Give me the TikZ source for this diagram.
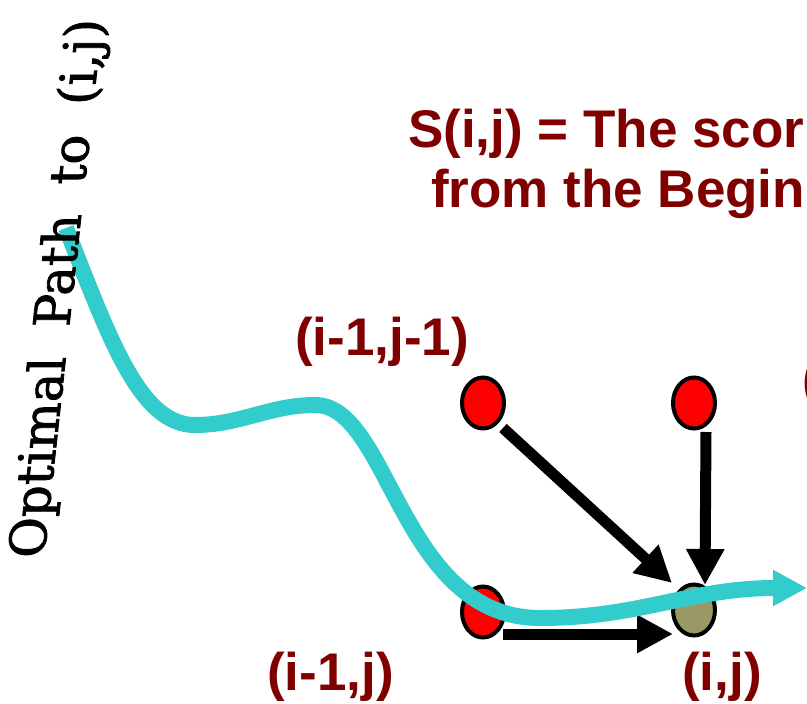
\documentclass[tikz,border=0pt]{standalone}
\usepackage{fontspec}
\setmainfont{DejaVu Serif}
\newfontfamily\titlefont[FakeBold=1.6]{DejaVu Serif}
\newfontfamily\labelfont{Liberation Sans}
\usetikzlibrary{shapes.geometric,arrows.meta}

\definecolor{darkred}{RGB}{128,0,0}
\definecolor{pathcyan}{RGB}{51,204,204}
\definecolor{olive}{RGB}{153,153,102}

\tikzset{
  cell/.style={ellipse, draw=black, line width=4pt, fill=red,
    minimum width=42pt, minimum height=51pt, inner sep=0pt},
  link/.style={line width=11pt, -{Triangle[length=36pt,width=36pt]}},
  lbl/.style={anchor=base west, inner sep=0pt, text=darkred,
    font=\labelfont\bfseries\fontsize{53}{58}\selectfont}
}

\begin{document}
\begin{tikzpicture}[x=1pt, y=-1pt]
    \useasboundingbox (0,0) rectangle (807,704);
    % the four cells
    \node[cell] (diag) at (483,403) {};
    \node[cell] (up) at (694,403) {};
    \node[cell] (left) at (483,612) {};
    \node[cell, fill=olive] (cur) at (694,610) {};

    % moves into (i,j)
    \draw[link] ([shift={(20pt,-25pt)}]diag.center) -- ([shift={(-22pt,27pt)}]cur.center);
    \draw[link] ([shift={(12pt,-29pt)}]up.center) -- ([shift={(11pt,25pt)}]cur.center);
    \draw[link] ([shift={(20pt,-22pt)}]left.center) -- ([shift={(-21pt,-24pt)}]cur.center);

    % optimal path
    \draw[pathcyan, line width=16pt, -{Triangle[length=34pt,width=34pt]}]
        (66,228) .. controls (110,340) and (140,425) .. (195,425)
        .. controls (240,425) and (270,405) .. (315,405)
        .. controls (390,405) and (400,618) .. (540,618)
        .. controls (640,618) and (690,588) .. (807,588);

    % labels (title is slanted, letters stay upright)
    \node[anchor=base west, inner sep=0pt, cm={0.108,0.994,-1,0,(0,0)},
        font=\titlefont\fontsize{50}{56}\selectfont]
        (title) at (44,558) {Optimal\hspace{14pt} Path\hspace{14pt} to\hspace{14pt} (i,j)};
    \node[lbl] (score) at (408,147) {S(i,j) = The scor};
    \node[lbl] (begin) at (431,207) {from the Begin};
    \node[lbl] (diaglbl) at (295,355) {(i-1,j-1)};
    \node[lbl] (leftlbl) at (267,690) {(i-1,j)};
    \node[lbl] (curlbl) at (682,690) {(i,j)};
    \node[lbl] (uplbl) at (802,397) {(};
\end{tikzpicture}
\end{document}
